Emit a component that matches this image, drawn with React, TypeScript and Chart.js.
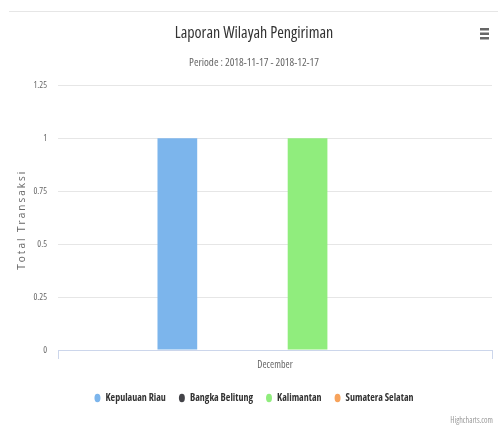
import React, { useEffect, useRef } from "react";
import { Chart, registerables } from "chart.js";

Chart.register(...registerables);

const categories = ["December"];
const seriesNames = ["Kepulauan Riau", "Bangka Belitung", "Kalimantan", "Sumatera Selatan"];
const seriesColors = ["#7cb5ec", "#434348", "#90ed7d", "#f7a35c"];
const kepulauanRiau = [1];
const bangkaBelitung = [0];
const kalimantan = [1];
const sumateraSelatan = [0];
const yTicks = [0, 0.25, 0.5, 0.75, 1, 1.25];
const titleText = "Laporan Wilayah Pengiriman";
const subtitleText = "Periode : 2018-11-17 - 2018-12-17";
const yTitle = "Total Transaksi";
const creditText = "Highcharts.com";

const FONT = "'Open Sans', sans-serif";
// font-stretch keyword placed in the weight slot of Chart.js font strings
const COND = "condensed";
const COND_BOLD = "condensed bold";

const decor = {
  id: "decor",
  afterDraw(chart: any) {
    const ctx = chart.ctx;
    const area = chart.chartArea;
    ctx.save();
    ctx.strokeStyle = "#e6e6e6";
    ctx.lineWidth = 1;
    ctx.beginPath();
    ctx.moveTo(9, 11.5);
    ctx.lineTo(498, 11.5);
    ctx.stroke();
    ctx.fillStyle = "#666666";
    for (let i = 0; i < 3; i++) {
      ctx.fillRect(480, 28 + i * 4.5, 9, 2.5);
    }
    ctx.font = "condensed 8px " + FONT;
    ctx.fillStyle = "#999999";
    ctx.textAlign = "right";
    ctx.textBaseline = "middle";
    ctx.fillText(creditText, 493, 421);
    // y axis title
    ctx.translate(22, (area.top + area.bottom) / 2 + 2);
    ctx.rotate(-Math.PI / 2);
    ctx.font = "10px " + FONT;
    (ctx as any).letterSpacing = "2px";
    ctx.fillStyle = "#666666";
    ctx.textAlign = "center";
    ctx.fillText(yTitle, 0, 0);
    ctx.restore();
  },
};

export default function App() {
  const ref = useRef<HTMLCanvasElement | null>(null);
  useEffect(() => {
    if (!ref.current) return;
    const data = [kepulauanRiau, bangkaBelitung, kalimantan, sumateraSelatan];
    const chart = new Chart(ref.current, {
      type: "bar",
      data: {
        labels: categories,
        datasets: seriesNames.map((name, i) => ({
          label: name,
          data: data[i],
          backgroundColor: seriesColors[i],
          borderWidth: 0,
          categoryPercentage: 0.6,
          barPercentage: 0.61,
        })),
      },
      plugins: [decor],
      options: {
        animation: false,
        responsive: false,
        maintainAspectRatio: false,
        layout: { padding: { top: 24, left: 16, right: 6, bottom: 13 } },
        plugins: {
          title: {
            display: true,
            text: titleText,
            color: "#333333",
            font: { family: FONT, size: 16, weight: COND as any },
            padding: { top: 0, bottom: 13 },
          },
          subtitle: {
            display: true,
            text: subtitleText,
            color: "#666666",
            font: { family: FONT, size: 11, weight: COND as any },
            padding: { top: 0, bottom: 16 },
          },
          legend: {
            position: "bottom",
            labels: {
              usePointStyle: true,
              pointStyle: "circle",
              pointStyleWidth: 6,
              boxHeight: 6,
              padding: 13,
              color: "#333333",
              font: { family: FONT, size: 10, weight: COND_BOLD as any },
            },
          },
          tooltip: { enabled: false },
        },
        scales: {
          x: {
            grid: {
              offset: true,
              drawOnChartArea: false,
              drawTicks: true,
              tickLength: 9,
              color: "#ccd6eb",
            },
            border: { color: "#ccd6eb" },
            ticks: {
              color: "#666666",
              font: { family: FONT, size: 10, weight: COND as any },
              padding: 0,
            },
            afterFit(scale: any) {
              scale.height += 9;
            },
          },
          y: {
            min: 0,
            max: 1.25,
            afterBuildTicks(scale: any) {
              scale.ticks = yTicks.map((v) => ({ value: v }));
            },
            afterFit(scale: any) {
              scale.width = 42;
            },
            grid: { color: "#e6e6e6", drawTicks: false },
            border: { display: false },
            ticks: {
              color: "#666666",
              font: { family: FONT, size: 9, weight: COND as any },
              padding: 11,
              callback: (v: any) => String(v),
            },
          },
        },
      },
    });
    return () => chart.destroy();
  }, []);
  return (
    <div style={{ position: "absolute", left: 0, top: 0, width: 498, height: 426, background: "#ffffff" }}>
      <canvas ref={ref} width={498} height={426} style={{ width: 498, height: 426, display: "block" }} />
    </div>
  );
}
